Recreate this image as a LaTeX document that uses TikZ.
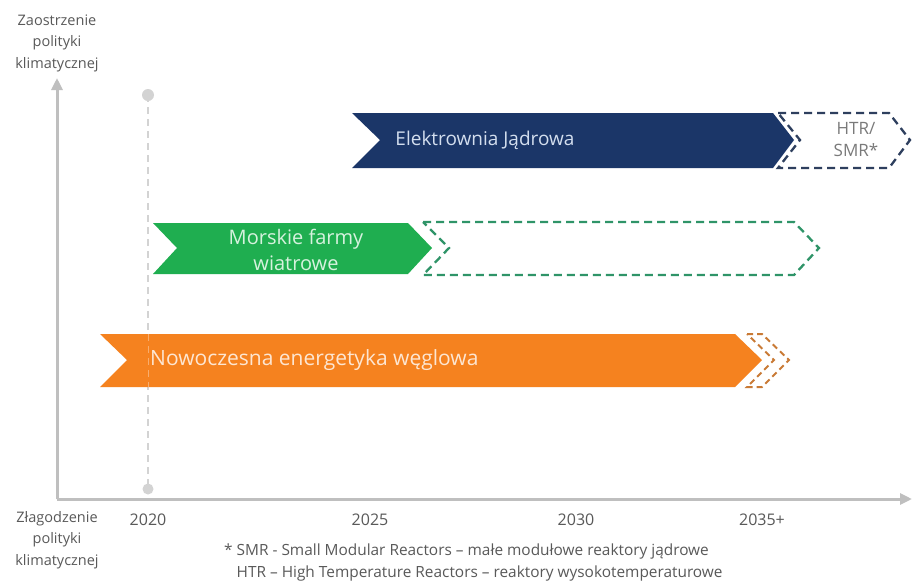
\documentclass[tikz,border=0pt]{standalone}
\usepackage{fontspec}
\setmainfont{Open Sans}
\usetikzlibrary{arrows.meta}
\definecolor{axisgray}{HTML}{BFBFBF}
\definecolor{guidegray}{HTML}{D3D3D3}
\definecolor{txtgray}{HTML}{595959}
\definecolor{navy}{HTML}{1B3668}
\definecolor{navydash}{HTML}{2E3F5E}
\definecolor{grn}{HTML}{1FAE50}
\definecolor{grndash}{HTML}{2F9468}
\definecolor{org}{HTML}{F5821F}
\definecolor{orgdash}{HTML}{C97A35}
\definecolor{navytxt}{HTML}{D3DEEE}
\definecolor{grntxt}{HTML}{D6F2DE}
\definecolor{orgtxt}{HTML}{FDE6D2}
\tikzset{
  axisline/.style={draw=axisgray, line width=3pt, -{Triangle[length=12pt,width=11pt]}},
  guide/.style={draw=guidegray, line width=1.5pt, dash pattern=on 7pt off 5pt},
  guidedot/.style={fill=guidegray, draw=none},
  dashchev/.style={line width=2.3pt, dash pattern=on 8pt off 5pt, line join=miter},
  yearlbl/.style={font=\fontsize{16}{19}\selectfont, text=txtgray, inner sep=0pt},
  axislbl/.style={font=\fontsize{14.5}{21.5}\selectfont, text=txtgray, align=center, inner sep=0pt},
  bartxt/.style={inner sep=0pt, align=center}
}
\begin{document}
\begin{tikzpicture}[x=1pt,y=-1pt]
\useasboundingbox[fill=white] (0,0) rectangle (914,584);
% axes
\coordinate (origin) at (57,499);
\coordinate (ytip) at (57,78);
\coordinate (xtip) at (912,499);
\draw[axisline] (origin) -- (ytip);
\draw[axisline] (origin) -- (xtip);
% 2020 guide
\coordinate (gtop) at (148,95);
\coordinate (gbot) at (148,489);
\draw[guide] (gtop) -- (gbot);
\fill[guidedot] (gtop) circle (6);
\fill[guidedot] (gbot) circle (5.5);
% navy chevron
\fill[navy] (352,113) -- (773,113) -- (794,140) -- (773,168) -- (352,168) -- (380,140) -- cycle;
\draw[dashchev, draw=navydash] (778,113) -- (889,113) -- (910,140) -- (889,168) -- (778,168) -- (800,140) -- cycle;
% green chevron
\fill[grn] (153,223) -- (408,223) -- (432,248) -- (408,274) -- (153,274) -- (177,248) -- cycle;
\draw[dashchev, draw=grndash] (423,222) -- (794,222) -- (819,248) -- (794,275) -- (423,275) -- (449,248) -- cycle;
% orange chevron
\fill[org] (100,334) -- (735,334) -- (762,360) -- (735,387) -- (100,387) -- (127,360) -- cycle;
\draw[dashchev, draw=orgdash, line width=2pt, dash pattern=on 6pt off 4pt] (747,334) -- (762,334) -- (789,360) -- (762,387) -- (747,387) -- (774,360) -- cycle;
% faint guide through the orange bar
\coordinate (gorgtop) at (148,334);
\coordinate (gorgbot) at (148,387);
\draw[guide, draw=white, opacity=0.35, line width=1pt] (gorgtop) -- (gorgbot);
% bar texts
\node[bartxt, text=navytxt, font=\fontsize{19}{23}\selectfont] (nuc) at (485,140) {Elektrownia Jądrowa};
\node[bartxt, text=txtgray!80, font=\fontsize{17}{22}\selectfont] (htr) at (856,140) {HTR/\\SMR*};
\node[bartxt, text=grntxt, font=\fontsize{20}{26}\selectfont] (wind) at (296,250) {Morskie farmy\\wiatrowe};
\node[bartxt, text=orgtxt, font=\fontsize{21}{25}\selectfont, anchor=west] (coal) at (150,360) {Nowoczesna energetyka węglowa};
% axis labels
\node[axislbl] (ytop) at (57,43) {Zaostrzenie\\polityki\\klimatycznej};
\node[axislbl] (ybot) at (57,540) {Złagodzenie\\polityki\\klimatycznej};
% years
\node[yearlbl] (y2020) at (148,520) {2020};
\node[yearlbl] (y2025) at (370,520) {2025};
\node[yearlbl] (y2030) at (576,520) {2030};
\node[yearlbl] (y2035) at (762,520) {2035+};
% footnote
\node[inner sep=0pt, anchor=north west, align=left, text=txtgray, font=\fontsize{15.4}{22}\selectfont] (note) at (224,544) {* SMR - Small Modular Reactors – małe modułowe reaktory jądrowe\\\phantom{* }HTR – High Temperature Reactors – reaktory wysokotemperaturowe};
\end{tikzpicture}
\end{document}
